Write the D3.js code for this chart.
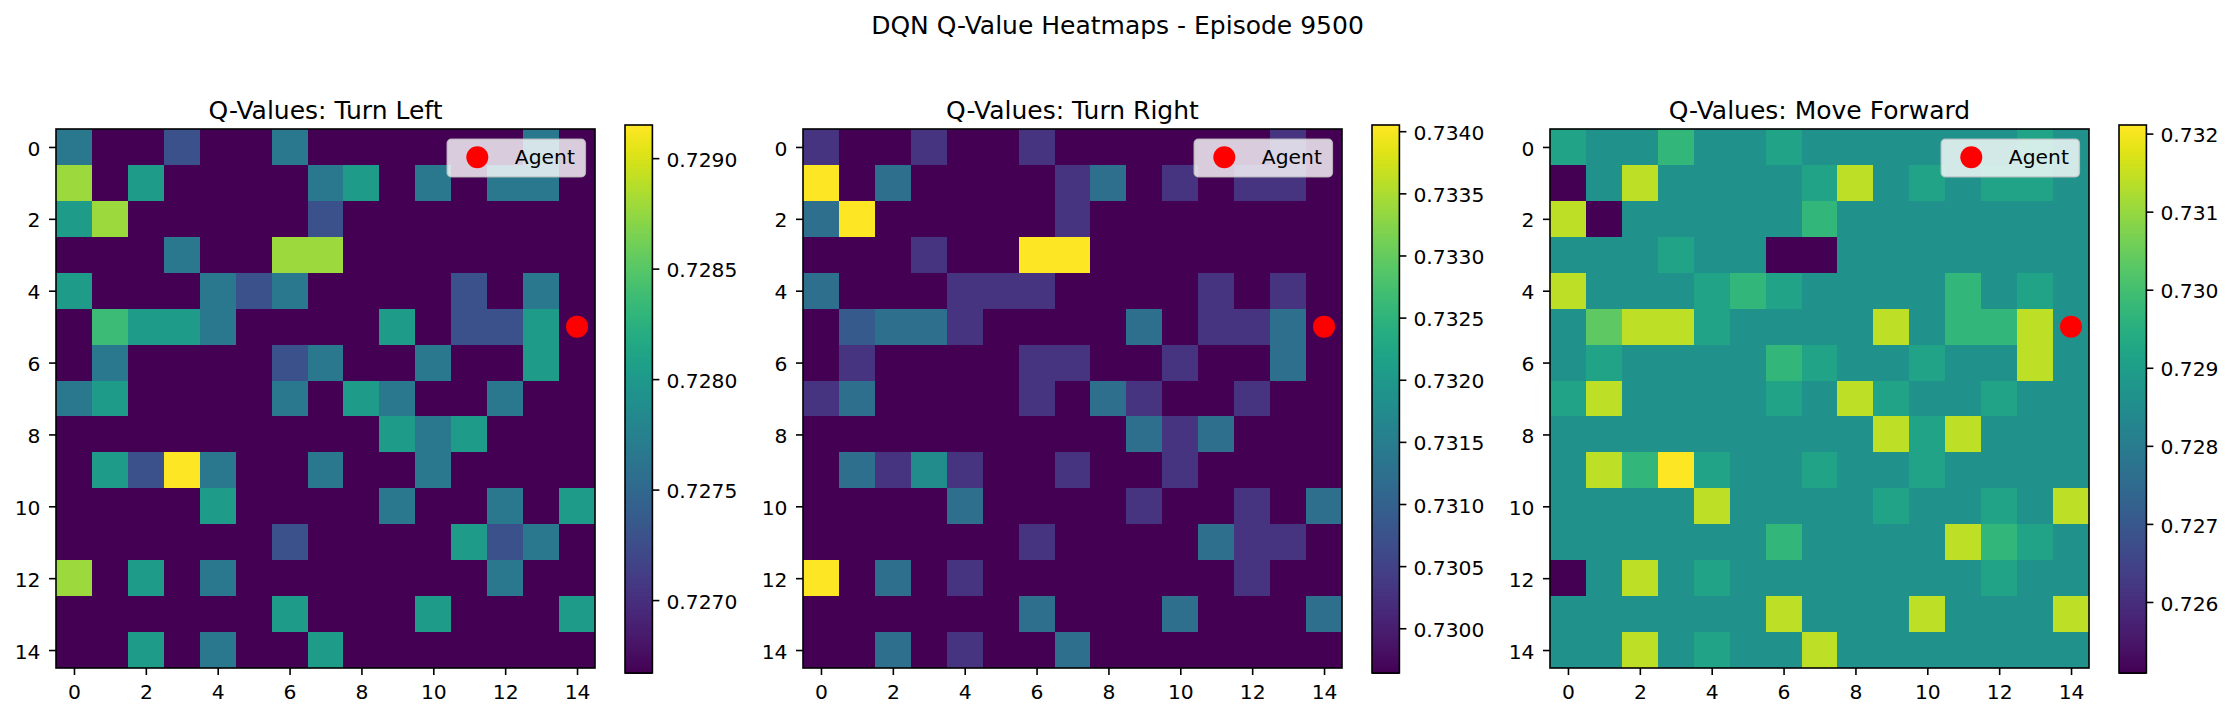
<!DOCTYPE html>
<html>

<head>
    <meta charset="utf-8">
    <style>
        body {
            margin: 0;
            background: #fff;
        }

        svg {
            display: block;
            font-family: "DejaVu Sans", sans-serif;
        }

        .tick line {
            stroke: #000;
            stroke-width: 1.6px;
        }

        .tick text {
            font-family: "DejaVu Sans", sans-serif;
            font-size: 20.3px;
            fill: #000;
        }

        .domain {
            display: none;
        }

        .cell, .step {
            shape-rendering: crispEdges;
        }
    </style>
</head>

<body>
    <svg width="2235" height="718"></svg>
</body>

<script src="https://d3js.org/d3.v7.min.js"></script>

<script>
    // values, rows top to bottom
    const turnLeft = [
        [.72766, .72667, .72667, .72729, .72667, .72667, .72766, .72667, .72667, .72667, .72667, .72667, .72667, .72766, .72667],
        [.72878, .72667, .72803, .72667, .72667, .72667, .72667, .72766, .72803, .72667, .72766, .72667, .72766, .72766, .72667],
        [.72803, .72878, .72667, .72667, .72667, .72667, .72667, .72729, .72667, .72667, .72667, .72667, .72667, .72667, .72667],
        [.72667, .72667, .72667, .72766, .72667, .72667, .72878, .72878, .72667, .72667, .72667, .72667, .72667, .72667, .72667],
        [.72803, .72667, .72667, .72667, .72766, .72729, .72766, .72667, .72667, .72667, .72667, .72729, .72667, .72766, .72667],
        [.72667, .72836, .72803, .72803, .72766, .72667, .72667, .72667, .72667, .72803, .72667, .72729, .72729, .72803, .72667],
        [.72667, .72766, .72667, .72667, .72667, .72667, .72729, .72766, .72667, .72667, .72766, .72667, .72667, .72803, .72667],
        [.72766, .72803, .72667, .72667, .72667, .72667, .72766, .72667, .72803, .72766, .72667, .72667, .72766, .72667, .72667],
        [.72667, .72667, .72667, .72667, .72667, .72667, .72667, .72667, .72667, .72803, .72766, .72803, .72667, .72667, .72667],
        [.72667, .72803, .72729, .72915, .72766, .72667, .72667, .72766, .72667, .72667, .72766, .72667, .72667, .72667, .72667],
        [.72667, .72667, .72667, .72667, .72803, .72667, .72667, .72667, .72667, .72766, .72667, .72667, .72766, .72667, .72803],
        [.72667, .72667, .72667, .72667, .72667, .72667, .72729, .72667, .72667, .72667, .72667, .72803, .72729, .72766, .72667],
        [.72878, .72667, .72803, .72667, .72766, .72667, .72667, .72667, .72667, .72667, .72667, .72667, .72766, .72667, .72667],
        [.72667, .72667, .72667, .72667, .72667, .72667, .72803, .72667, .72667, .72667, .72803, .72667, .72667, .72667, .72803],
        [.72667, .72667, .72803, .72667, .72766, .72667, .72667, .72803, .72667, .72667, .72667, .72667, .72667, .72667, .72667]
    ]

    const turnRight = [
        [.73030, .72964, .72964, .73030, .72964, .72964, .73030, .72964, .72964, .72964, .72964, .72964, .72964, .73030, .72964],
        [.73405, .72964, .73123, .72964, .72964, .72964, .72964, .73030, .73123, .72964, .73030, .72964, .73030, .73030, .72964],
        [.73123, .73405, .72964, .72964, .72964, .72964, .72964, .73030, .72964, .72964, .72964, .72964, .72964, .72964, .72964],
        [.72964, .72964, .72964, .73030, .72964, .72964, .73405, .73405, .72964, .72964, .72964, .72964, .72964, .72964, .72964],
        [.73123, .72964, .72964, .72964, .73030, .73030, .73030, .72964, .72964, .72964, .72964, .73030, .72964, .73030, .72964],
        [.72964, .73087, .73123, .73123, .73030, .72964, .72964, .72964, .72964, .73123, .72964, .73030, .73030, .73123, .72964],
        [.72964, .73030, .72964, .72964, .72964, .72964, .73030, .73030, .72964, .72964, .73030, .72964, .72964, .73123, .72964],
        [.73030, .73123, .72964, .72964, .72964, .72964, .73030, .72964, .73123, .73030, .72964, .72964, .73030, .72964, .72964],
        [.72964, .72964, .72964, .72964, .72964, .72964, .72964, .72964, .72964, .73123, .73030, .73123, .72964, .72964, .72964],
        [.72964, .73123, .73030, .73176, .73030, .72964, .72964, .73030, .72964, .72964, .73030, .72964, .72964, .72964, .72964],
        [.72964, .72964, .72964, .72964, .73123, .72964, .72964, .72964, .72964, .73030, .72964, .72964, .73030, .72964, .73123],
        [.72964, .72964, .72964, .72964, .72964, .72964, .73030, .72964, .72964, .72964, .72964, .73123, .73030, .73030, .72964],
        [.73405, .72964, .73123, .72964, .73030, .72964, .72964, .72964, .72964, .72964, .72964, .72964, .73030, .72964, .72964],
        [.72964, .72964, .72964, .72964, .72964, .72964, .73123, .72964, .72964, .72964, .73123, .72964, .72964, .72964, .73123],
        [.72964, .72964, .73123, .72964, .73030, .72964, .72964, .73123, .72964, .72964, .72964, .72964, .72964, .72964, .72964]
    ]

    const moveForward = [
        [.72916, .72860, .72860, .72972, .72860, .72860, .72916, .72860, .72860, .72860, .72860, .72860, .72860, .72916, .72860],
        [.72509, .72860, .73141, .72860, .72860, .72860, .72860, .72916, .73141, .72860, .72916, .72860, .72916, .72916, .72860],
        [.73141, .72509, .72860, .72860, .72860, .72860, .72860, .72972, .72860, .72860, .72860, .72860, .72860, .72860, .72860],
        [.72860, .72860, .72860, .72916, .72860, .72860, .72509, .72509, .72860, .72860, .72860, .72860, .72860, .72860, .72860],
        [.73141, .72860, .72860, .72860, .72916, .72972, .72916, .72860, .72860, .72860, .72860, .72972, .72860, .72916, .72860],
        [.72860, .73036, .73141, .73141, .72916, .72860, .72860, .72860, .72860, .73141, .72860, .72972, .72972, .73141, .72860],
        [.72860, .72916, .72860, .72860, .72860, .72860, .72972, .72916, .72860, .72860, .72916, .72860, .72860, .73141, .72860],
        [.72916, .73141, .72860, .72860, .72860, .72860, .72916, .72860, .73141, .72916, .72860, .72860, .72916, .72860, .72860],
        [.72860, .72860, .72860, .72860, .72860, .72860, .72860, .72860, .72860, .73141, .72916, .73141, .72860, .72860, .72860],
        [.72860, .73141, .72972, .73211, .72916, .72860, .72860, .72916, .72860, .72860, .72916, .72860, .72860, .72860, .72860],
        [.72860, .72860, .72860, .72860, .73141, .72860, .72860, .72860, .72860, .72916, .72860, .72860, .72916, .72860, .73141],
        [.72860, .72860, .72860, .72860, .72860, .72860, .72972, .72860, .72860, .72860, .72860, .73141, .72972, .72916, .72860],
        [.72509, .72860, .73141, .72860, .72916, .72860, .72860, .72860, .72860, .72860, .72860, .72860, .72916, .72860, .72860],
        [.72860, .72860, .72860, .72860, .72860, .72860, .73141, .72860, .72860, .72860, .73141, .72860, .72860, .72860, .73141],
        [.72860, .72860, .73141, .72860, .72916, .72860, .72860, .73141, .72860, .72860, .72860, .72860, .72860, .72860, .72860]
    ]

    const gridTicks = [0, 2, 4, 6, 8, 10, 12, 14]
    const leftTicks = [0.7270, 0.7275, 0.7280, 0.7285, 0.7290]
    const rightTicks = [0.7300, 0.7305, 0.7310, 0.7315, 0.7320, 0.7325, 0.7330, 0.7335, 0.7340]
    const forwardTicks = [0.726, 0.727, 0.728, 0.729, 0.730, 0.731, 0.732]
    const agentCol = 14
    const agentRow = 5

    const panels = [
        { title: "Q-Values: Turn Left", values: turnLeft, ticks: leftTicks, fmt: ".4f", left: 56 },
        { title: "Q-Values: Turn Right", values: turnRight, ticks: rightTicks, fmt: ".4f", left: 803 },
        { title: "Q-Values: Move Forward", values: moveForward, ticks: forwardTicks, fmt: ".3f", left: 1550 }
    ]

    let svg = d3.select("svg")

    let plotTop = 129
    let plotSize = 539
    let barTop = 125
    let barHeight = 548
    let barGap = 29
    let barWidth = 27.4

    svg.append("text")
        .attr("x", 1117.5)
        .attr("y", 34)
        .attr("text-anchor", "middle")
        .style("font-size", "25px")
        .text("DQN Q-Value Heatmaps - Episode 9500")

    panels.forEach(function (p) {
        let cells = p.values.flatMap((row, r) => row.map((v, c) => ({ r, c, v })))
        let extent = d3.extent(cells, d => d.v)

        let x = d3.scaleLinear().domain([-0.5, 14.5]).range([p.left, p.left + plotSize])
        let y = d3.scaleLinear().domain([-0.5, 14.5]).range([plotTop, plotTop + plotSize])
        let color = d3.scaleSequential(d3.interpolateViridis).domain(extent)

        let g = svg.append("g")

        // heatmap cells
        g.selectAll(".cell")
            .data(cells)
            .join("rect")
            .attr("class", "cell")
            .attr("x", d => x(d.c - 0.5))
            .attr("y", d => y(d.r - 0.5))
            .attr("width", x(1) - x(0))
            .attr("height", y(1) - y(0))
            .attr("fill", d => color(d.v))

        g.append("g")
            .attr("transform", `translate(0,${plotTop + plotSize})`)
            .call(d3.axisBottom(x).tickValues(gridTicks).tickSize(7).tickPadding(9.5).tickFormat(d3.format("d")))

        g.append("g")
            .attr("transform", `translate(${p.left},0)`)
            .call(d3.axisLeft(y).tickValues(gridTicks).tickSize(7).tickPadding(8.5).tickFormat(d3.format("d")))
            .selectAll("text").attr("dy", "0.4em")

        g.append("rect")
            .attr("x", p.left)
            .attr("y", plotTop)
            .attr("width", plotSize)
            .attr("height", plotSize)
            .style("fill", "none")
            .style("stroke", "#000")
            .style("stroke-width", "1.6px")

        g.append("text")
            .attr("x", p.left + plotSize / 2)
            .attr("y", plotTop - 10.5)
            .attr("text-anchor", "middle")
            .style("font-size", "25px")
            .text(p.title)

        // agent marker
        g.append("circle")
            .attr("cx", x(agentCol))
            .attr("cy", y(agentRow))
            .attr("r", 11)
            .attr("fill", "#ff0000")

        // legend box
        let legendX = p.left + plotSize - 147.7
        let legendY = plotTop + 10.3
        g.append("rect")
            .attr("x", legendX)
            .attr("y", legendY)
            .attr("width", 138)
            .attr("height", 37.4)
            .attr("rx", 4)
            .style("fill", "rgba(255,255,255,0.8)")
            .style("stroke", "rgba(204,204,204,0.8)")
            .style("stroke-width", "1.6px")

        g.append("circle")
            .attr("cx", legendX + 30)
            .attr("cy", legendY + 18)
            .attr("r", 11)
            .attr("fill", "#ff0000")

        g.append("text")
            .attr("x", legendX + 67.5)
            .attr("y", legendY + 25)
            .style("font-size", "20.3px")
            .text("Agent")

        // colorbar
        let barX = p.left + plotSize + barGap + 1
        let barY = d3.scaleLinear().domain(extent).range([barTop + barHeight, barTop])
        let steps = d3.range(256)
        let stepValue = d => extent[0] + (extent[1] - extent[0]) * d / 255

        g.selectAll(".step")
            .data(steps)
            .join("rect")
            .attr("class", "step")
            .attr("x", barX)
            .attr("y", d => barTop + barHeight * (255 - d) / 256)
            .attr("width", barWidth)
            .attr("height", barHeight / 256 + 0.5)
            .attr("fill", d => color(stepValue(d)))

        g.append("g")
            .attr("transform", `translate(${barX + barWidth},0)`)
            .call(d3.axisRight(barY).tickValues(p.ticks).tickSize(7).tickPadding(7).tickFormat(d3.format(p.fmt)))
            .selectAll("text").attr("dy", "0.4em")

        g.append("rect")
            .attr("x", barX)
            .attr("y", barTop)
            .attr("width", barWidth)
            .attr("height", barHeight)
            .style("fill", "none")
            .style("stroke", "#000")
            .style("stroke-width", "1.6px")
    })
</script>

</html>
